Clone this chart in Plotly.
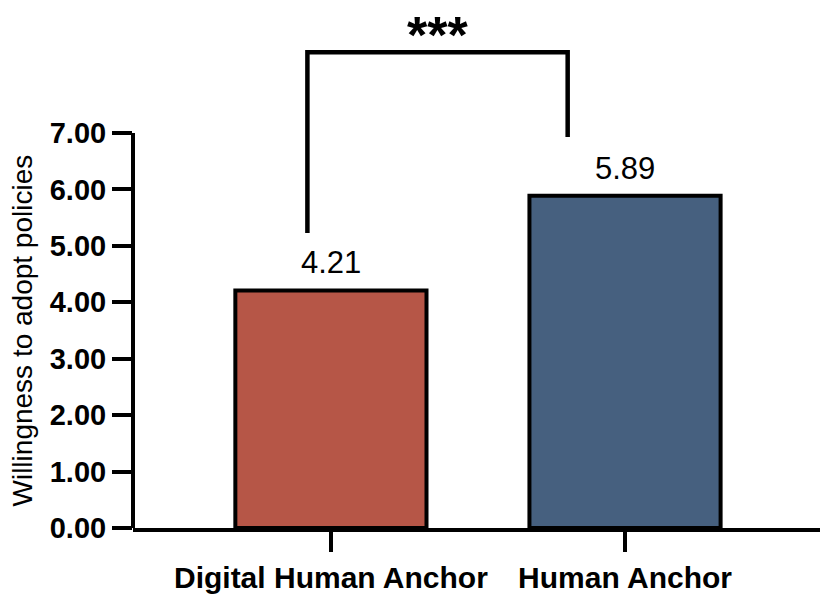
import plotly.graph_objects as go

# data
categories = ["Digital Human Anchor", "Human Anchor"]
willingness = [4.21, 5.89]
bar_colors = ["#B65647", "#46607F"]
y_ticks = [0, 1, 2, 3, 4, 5, 6, 7]
y_tick_labels = [f"{v:.2f}" for v in y_ticks]
y_title = "Willingness to adopt policies"
sig_label = "***"

# bracket geometry, in axis units (x = category index, y = value)
bracket_left_x = -0.08
bracket_right_x = 0.805
bracket_top_y = 8.43
bracket_left_bottom_y = 5.23
bracket_right_bottom_y = 6.93

font = "Liberation Sans, Arial, sans-serif"

fig = go.Figure()

fig.add_trace(
    go.Bar(
        x=categories,
        y=willingness,
        width=0.65,
        marker=dict(color=bar_colors, line=dict(color="black", width=4)),
        hoverinfo="skip",
    )
)

# value labels above bars
for cat, val in zip(categories, willingness):
    fig.add_annotation(
        x=cat,
        y=val,
        text=f"{val:.2f}",
        showarrow=False,
        yanchor="bottom",
        yshift=8,
        font=dict(family=font, size=31, color="black"),
    )

# significance bracket
fig.add_shape(
    type="path",
    xref="x",
    yref="y",
    path=(
        f"M {bracket_left_x} {bracket_left_bottom_y} "
        f"L {bracket_left_x} {bracket_top_y} "
        f"L {bracket_right_x} {bracket_top_y} "
        f"L {bracket_right_x} {bracket_right_bottom_y}"
    ),
    line=dict(color="black", width=4.5),
)
fig.add_annotation(
    x=(bracket_left_x + bracket_right_x) / 2,
    y=bracket_top_y,
    text=f"<b>{sig_label}</b>",
    showarrow=False,
    yanchor="middle",
    yshift=17,
    font=dict(family=font, size=52, color="black"),
)

# y spine only up to the last tick
fig.add_shape(
    type="line",
    xref="paper",
    yref="y",
    x0=0,
    x1=0,
    y0=0,
    y1=y_ticks[-1],
    line=dict(color="black", width=4),
)

# y title centred on the ticked span, not the whole plot height
fig.add_annotation(
    xref="paper",
    yref="y",
    x=0,
    y=(y_ticks[0] + y_ticks[-1]) / 2,
    text=y_title,
    textangle=-90,
    showarrow=False,
    xanchor="center",
    yanchor="middle",
    xshift=-111,
    font=dict(family=font, size=28, color="black"),
)

fig.update_layout(
    width=835,
    height=607,
    margin=dict(l=133, r=15, t=0, b=79),
    plot_bgcolor="white",
    paper_bgcolor="white",
    showlegend=False,
    font=dict(family=font, color="black"),
)

fig.update_xaxes(
    range=[-0.673, 1.663],
    showline=True,
    linecolor="black",
    linewidth=4,
    ticks="outside",
    ticklen=20,
    tickwidth=4,
    tickcolor="black",
    tickfont=dict(family=font, size=30, color="black"),
    tickprefix="<b>",
    ticksuffix="</b>",
    showgrid=False,
    zeroline=False,
)

fig.update_yaxes(
    range=[0, 9.357],
    tickvals=y_ticks,
    ticktext=[f"<b>{t}</b>" for t in y_tick_labels],
    showline=False,
    ticks="outside",
    ticklen=20,
    tickwidth=4,
    tickcolor="black",
    tickfont=dict(family=font, size=29, color="black"),
    showgrid=False,
    zeroline=False,
)

# page body has a default 8px margin; drop it so the figure sits at the corner
fig.write_html(
    "out.html",
    config={"displayModeBar": False},
    post_script="document.body.style.margin = '0';",
)
